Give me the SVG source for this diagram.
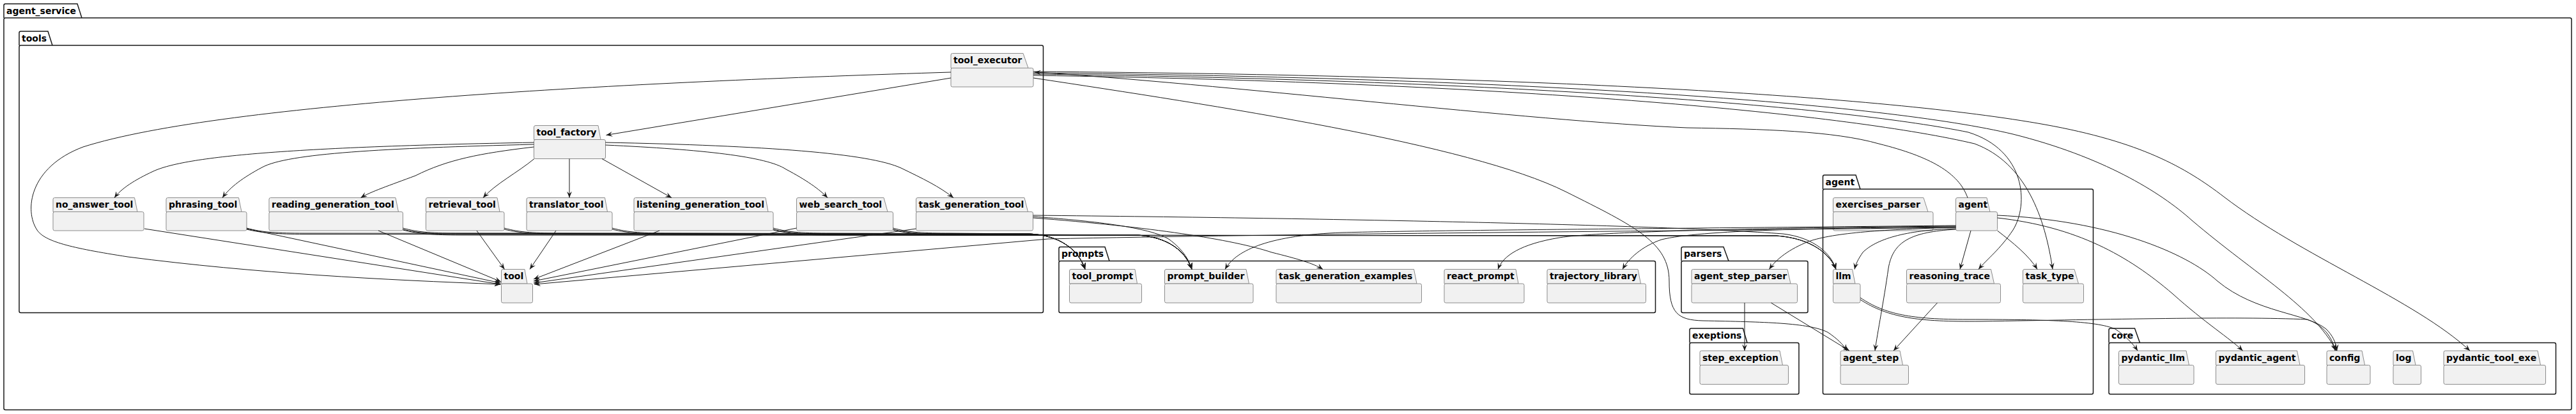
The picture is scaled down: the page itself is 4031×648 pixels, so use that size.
<svg xmlns="http://www.w3.org/2000/svg" width="4031" height="648" viewBox="0 0 4031 648">
<style>
text{font-family:"DejaVu Sans","Liberation Sans",sans-serif;font-weight:bold;font-size:14px;fill:#000}
.pkg path,.pkg rect{fill:none;stroke:#181818;stroke-width:1.5}
.node path,.node rect{fill:#F1F1F1;stroke:#8C8C8C;stroke-width:1}
#edges path{fill:none;stroke:#181818;stroke-width:1;marker-end:url(#arr)}
</style>
<defs>
<marker id="arr" viewBox="0 0 10 8" refX="10" refY="4" markerWidth="10" markerHeight="8" markerUnits="userSpaceOnUse" orient="auto"><path d="M0,0 L10,4 L0,8 L4,4 Z" fill="#181818"/></marker>
</defs>
<rect width="4031" height="648" fill="#fff"/>
<g id="pkg-agent_service" class="pkg"><path d="M6,28 L6,8.5 Q6,6 8.5,6 L121,6 L128,28"/><rect x="6" y="28" width="4018" height="613.5" rx="2.5"/><text x="10" y="21.5">agent_service</text></g>
<g id="pkg-tools" class="pkg"><path d="M30,71 L30,51.5 Q30,49 32.5,49 L75,49 L82,71"/><rect x="30" y="71" width="1602.5" height="418.5" rx="2.5"/><text x="34" y="64.5">tools</text></g>
<g id="pkg-prompts" class="pkg"><path d="M1657,408.5 L1657,389 Q1657,386.5 1659.5,386.5 L1729,386.5 L1736,408.5"/><rect x="1657" y="408.5" width="933.5" height="81" rx="2.5"/><text x="1661" y="402">prompts</text></g>
<g id="pkg-parsers" class="pkg"><path d="M2631,408.5 L2631,389 Q2631,386.5 2633.5,386.5 L2697,386.5 L2705,408.5"/><rect x="2631" y="408.5" width="198" height="81" rx="2.5"/><text x="2635" y="402">parsers</text></g>
<g id="pkg-exeptions" class="pkg"><path d="M2644,536.5 L2644,516.5 Q2644,514 2646.5,514 L2727.5,514 L2734,536.5"/><rect x="2644" y="536.5" width="171" height="80.5" rx="2.5"/><text x="2648" y="529.5">exeptions</text></g>
<g id="pkg-agent" class="pkg"><path d="M2852.5,296 L2852.5,276.5 Q2852.5,274 2855,274 L2904,274 L2911,296"/><rect x="2852.5" y="296" width="423" height="321" rx="2.5"/><text x="2856.5" y="289.5">agent</text></g>
<g id="pkg-core" class="pkg"><path d="M3300,536.5 L3300,516.5 Q3300,514 3302.5,514 L3340.5,514 L3348.5,536.5"/><rect x="3300" y="536.5" width="699.5" height="80.5" rx="2.5"/><text x="3304" y="529.5">core</text></g>

<g id="tool_factory" class="node"><path d="M835.5,218.5 L835.5,199 Q835.5,196.5 838,196.5 L936,196.5 L940,218.5 Z"/><rect x="835.5" y="218.5" width="112" height="30" rx="2.5"/><text x="839.5" y="212">tool_factory</text></g>
<g id="tool_executor" class="node"><path d="M1488,106.5 L1488,86 Q1488,83.5 1490.5,83.5 L1601,83.5 L1609,106.5 Z"/><rect x="1488" y="106.5" width="129" height="29.5" rx="2.5"/><text x="1492" y="99">tool_executor</text></g>
<g id="no_answer_tool" class="node"><path d="M83,331.5 L83,312 Q83,309.5 85.5,309.5 L210.5,309.5 L215,331.5 Z"/><rect x="83" y="331.5" width="142" height="29.5" rx="2.5"/><text x="87" y="325">no_answer_tool</text></g>
<g id="phrasing_tool" class="node"><path d="M260,331.5 L260,312 Q260,309.5 262.5,309.5 L373.5,309.5 L378,331.5 Z"/><rect x="260" y="331.5" width="126" height="29.5" rx="2.5"/><text x="264" y="325">phrasing_tool</text></g>
<g id="reading_generation_tool" class="node"><path d="M421,331.5 L421,312 Q421,309.5 423.5,309.5 L619,309.5 L623.5,331.5 Z"/><rect x="421" y="331.5" width="209.5" height="29.5" rx="2.5"/><text x="425" y="325">reading_generation_tool</text></g>
<g id="retrieval_tool" class="node"><path d="M666.5,331.5 L666.5,312 Q666.5,309.5 669,309.5 L778,309.5 L782,331.5 Z"/><rect x="666.5" y="331.5" width="122.5" height="29.5" rx="2.5"/><text x="670.5" y="325">retrieval_tool</text></g>
<g id="translator_tool" class="node"><path d="M824,331.5 L824,312 Q824,309.5 826.5,309.5 L946.5,309.5 L950.5,331.5 Z"/><rect x="824" y="331.5" width="134" height="29.5" rx="2.5"/><text x="828" y="325">translator_tool</text></g>
<g id="listening_generation_tool" class="node"><path d="M992,331.5 L992,312 Q992,309.5 994.5,309.5 L1198,309.5 L1202,331.5 Z"/><rect x="992" y="331.5" width="218" height="29.5" rx="2.5"/><text x="996" y="325">listening_generation_tool</text></g>
<g id="web_search_tool" class="node"><path d="M1246.5,331.5 L1246.5,312 Q1246.5,309.5 1249,309.5 L1383,309.5 L1389,331.5 Z"/><rect x="1246.5" y="331.5" width="151" height="29.5" rx="2.5"/><text x="1250.5" y="325">web_search_tool</text></g>
<g id="task_generation_tool" class="node"><path d="M1433.5,331.5 L1433.5,312 Q1433.5,309.5 1436,309.5 L1603,309.5 L1608.5,331.5 Z"/><rect x="1433.5" y="331.5" width="183" height="29.5" rx="2.5"/><text x="1437.5" y="325">task_generation_tool</text></g>
<g id="tool" class="node"><path d="M784.5,444 L784.5,424 Q784.5,421.5 787,421.5 L821,421.5 L825,444 Z"/><rect x="784.5" y="444" width="49" height="30" rx="2.5"/><text x="788.5" y="437">tool</text></g>
<g id="tool_prompt" class="node"><path d="M1673.5,444 L1673.5,424 Q1673.5,421.5 1676,421.5 L1776,421.5 L1779.5,444 Z"/><rect x="1673.5" y="444" width="113" height="30" rx="2.5"/><text x="1677.5" y="437">tool_prompt</text></g>
<g id="prompt_builder" class="node"><path d="M1822.5,444 L1822.5,424 Q1822.5,421.5 1825,421.5 L1950,421.5 L1954.5,444 Z"/><rect x="1822.5" y="444" width="138.5" height="30" rx="2.5"/><text x="1826.5" y="437">prompt_builder</text></g>
<g id="task_generation_examples" class="node"><path d="M1997,444 L1997,424 Q1997,421.5 1999.5,421.5 L2212.5,421.5 L2217,444 Z"/><rect x="1997" y="444" width="227.5" height="30" rx="2.5"/><text x="2001" y="437">task_generation_examples</text></g>
<g id="react_prompt" class="node"><path d="M2260,444 L2260,424 Q2260,421.5 2262.5,421.5 L2372,421.5 L2376,444 Z"/><rect x="2260" y="444" width="125" height="30" rx="2.5"/><text x="2264" y="437">react_prompt</text></g>
<g id="trajectory_library" class="node"><path d="M2421,444 L2421,424 Q2421,421.5 2423.5,421.5 L2563,421.5 L2567.5,444 Z"/><rect x="2421" y="444" width="154.5" height="30" rx="2.5"/><text x="2425" y="437">trajectory_library</text></g>
<g id="agent_step_parser" class="node"><path d="M2647,444 L2647,424 Q2647,421.5 2649.5,421.5 L2797,421.5 L2802,444 Z"/><rect x="2647" y="444" width="165.5" height="30" rx="2.5"/><text x="2651" y="437">agent_step_parser</text></g>
<g id="step_exception" class="node"><path d="M2660,571.5 L2660,551.5 Q2660,549 2662.5,549 L2785,549 L2789.5,571.5 Z"/><rect x="2660" y="571.5" width="138.5" height="30" rx="2.5"/><text x="2664" y="564.5">step_exception</text></g>
<g id="exercises_parser" class="node"><path d="M2868.5,331.5 L2868.5,312 Q2868.5,309.5 2871,309.5 L3010,309.5 L3017,331.5 Z"/><rect x="2868.5" y="331.5" width="156.5" height="29.5" rx="2.5"/><text x="2872.5" y="325">exercises_parser</text></g>
<g id="agent" class="node"><path d="M3060.5,331.5 L3060.5,312 Q3060.5,309.5 3063,309.5 L3109,309.5 L3114,331.5 Z"/><rect x="3060.5" y="331.5" width="65" height="29.5" rx="2.5"/><text x="3064.5" y="325">agent</text></g>
<g id="llm" class="node"><path d="M2868.5,444 L2868.5,424 Q2868.5,421.5 2871,421.5 L2898.5,421.5 L2903,444 Z"/><rect x="2868.5" y="444" width="42.5" height="30" rx="2.5"/><text x="2872.5" y="437">llm</text></g>
<g id="reasoning_trace" class="node"><path d="M2983.5,444 L2983.5,424 Q2983.5,421.5 2986,421.5 L3115.5,421.5 L3120.5,444 Z"/><rect x="2983.5" y="444" width="147" height="30" rx="2.5"/><text x="2987.5" y="437">reasoning_trace</text></g>
<g id="task_type" class="node"><path d="M3165.5,444 L3165.5,424 Q3165.5,421.5 3168,421.5 L3246,421.5 L3252.5,444 Z"/><rect x="3165.5" y="444" width="95" height="30" rx="2.5"/><text x="3169.5" y="437">task_type</text></g>
<g id="agent_step" class="node"><path d="M2880,571.5 L2880,551.5 Q2880,549 2882.5,549 L2973,549 L2977.5,571.5 Z"/><rect x="2880" y="571.5" width="106.5" height="30" rx="2.5"/><text x="2884" y="564.5">agent_step</text></g>
<g id="pydantic_llm" class="node"><path d="M3315.5,571.5 L3315.5,551.5 Q3315.5,549 3318,549 L3421,549 L3425.5,571.5 Z"/><rect x="3315.5" y="571.5" width="117.5" height="30" rx="2.5"/><text x="3319.5" y="564.5">pydantic_llm</text></g>
<g id="pydantic_agent" class="node"><path d="M3467.5,571.5 L3467.5,551.5 Q3467.5,549 3470,549 L3594.5,549 L3599,571.5 Z"/><rect x="3467.5" y="571.5" width="139" height="30" rx="2.5"/><text x="3471.5" y="564.5">pydantic_agent</text></g>
<g id="config" class="node"><path d="M3641,571.5 L3641,551.5 Q3641,549 3643.5,549 L3696,549 L3700.5,571.5 Z"/><rect x="3641" y="571.5" width="68" height="30" rx="2.5"/><text x="3645" y="564.5">config</text></g>
<g id="log" class="node"><path d="M3745,571.5 L3745,551.5 Q3745,549 3747.5,549 L3775.5,549 L3780,571.5 Z"/><rect x="3745" y="571.5" width="43.5" height="30" rx="2.5"/><text x="3749" y="564.5">log</text></g>
<g id="pydantic_tool_exe" class="node"><path d="M3824,571.5 L3824,551.5 Q3824,549 3826.5,549 L3971,549 L3975.5,571.5 Z"/><rect x="3824" y="571.5" width="159.5" height="30" rx="2.5"/><text x="3828" y="564.5">pydantic_tool_exe</text></g>

<g id="edges">
<path d="M1488,122 L948.5,211.5"/>
<path d="M1488,113 C1000,128 350,160 130,230 C45,262 38,330 58,360 C70,378 110,388 200,402 C400,428 600,438 783.5,445"/>
<path d="M835.5,223 C450,230 290,245 240,268 C210,282 190,295 179,309.5"/>
<path d="M835.5,226 C600,232 450,240 410,262 C380,278 360,293 348,309.5"/>
<path d="M835.5,230 C750,240 700,250 650,275 C610,290 580,300 564.5,309.5"/>
<path d="M836,248.5 C810,270 775,288 756,309.5"/>
<path d="M891,248.5 L891,309.5"/>
<path d="M942,248.5 L1051,309.5"/>
<path d="M947.5,227 C1100,234 1200,245 1230,265 C1262,282 1282,296 1295,309.5"/>
<path d="M947.5,223 C1200,228 1360,240 1410,263 C1445,280 1470,292 1492,309.5"/>
<path d="M226,358 L783.5,445"/>
<path d="M386,358 L783.5,443"/>
<path d="M592,361 L784,441"/>
<path d="M746,361 L789.5,421.5"/>
<path d="M870,361 L829,421.5"/>
<path d="M1032,361 L835,437"/>
<path d="M1246.5,357 L835,440"/>
<path d="M1433.5,358 L835,443"/>
<path d="M386,357 C411,364 436,365 476,365 L1610,366 C1660,368 1688,392 1698,421.5"/>
<path d="M386,359 C411,365 436,366.5 476,366.5 L1780,368 C1830,371 1856,395 1865,421.5"/>
<path d="M630.5,357 C655,364 680,365 720,365 L1610,366 C1660,368 1688,392 1698,421.5"/>
<path d="M630.5,359 C655,365 680,366.5 720,366.5 L1780,368 C1830,371 1856,395 1865,421.5"/>
<path d="M630.5,360 C655,366 680,368 720,368 L2780,369 C2835,373 2864,398 2873,421.5"/>
<path d="M789,357 C814,364 839,365 879,365 L1610,366 C1660,368 1688,392 1698,421.5"/>
<path d="M789,359 C814,365 839,366.5 879,366.5 L1780,368 C1830,371 1856,395 1865,421.5"/>
<path d="M958,357 C983,364 1008,365 1048,365 L1610,366 C1660,368 1688,392 1698,421.5"/>
<path d="M958,359 C983,365 1008,366.5 1048,366.5 L1780,368 C1830,371 1856,395 1865,421.5"/>
<path d="M1210,357 C1235,364 1260,365 1300,365 L1610,366 C1660,368 1688,392 1698,421.5"/>
<path d="M1210,359 C1235,365 1260,366.5 1300,366.5 L1780,368 C1830,371 1856,395 1865,421.5"/>
<path d="M1210,360 C1235,366 1260,368 1300,368 L2780,369 C2835,373 2864,398 2873,421.5"/>
<path d="M1397.5,357 C1422,364 1447,365 1487,365 L1610,366 C1660,368 1688,392 1698,421.5"/>
<path d="M1397.5,359 C1422,365 1447,366.5 1487,366.5 L1780,368 C1830,371 1856,395 1865,421.5"/>
<path d="M1397.5,360 C1422,366 1447,368 1487,368 L2780,369 C2835,373 2864,398 2873,421.5"/>
<path d="M1616.5,337 C2100,342 2600,352 2790,366 C2840,372 2866,398 2873,421.5"/>
<path d="M1616.5,339 C1700,345 1800,355 1830,375 C1850,390 1860,405 1865,421.5"/>
<path d="M1616.5,341 C1800,355 1930,375 1990,395 C2030,405 2055,412 2070,421.5"/>
<path d="M3079,309.5 C3065,270 3020,245 2940,225 C2870,205 2760,202 2640,200 C2400,190 1900,130 1619,113"/>
<path d="M3084,361 L3067,421.5"/>
<path d="M3125.5,361 C3150,380 3175,400 3188,421.5"/>
<path d="M3125.5,341 C3250,355 3330,400 3400,460 C3450,505 3490,530 3509.5,549"/>
<path d="M3125.5,337 C3300,345 3420,395 3470,440 C3530,490 3610,490 3640,515 C3650,525 3655,535 3657,549"/>
<path d="M3060.5,358 C2980,360 2935,375 2915,395 C2908,405 2904,413 2902,421.5"/>
<path d="M3060.5,356 C2950,359 2870,364 2830,378 C2800,390 2780,405 2768.5,421.5"/>
<path d="M3060.5,355 C2850,357 2660,360 2600,375 C2570,385 2548,405 2539,421.5"/>
<path d="M3060.5,354 C2800,356 2500,362 2440,372 C2380,382 2352,400 2344,421.5"/>
<path d="M3060.5,353 C2700,357 2250,360 2100,364 C1990,368 1935,390 1917,421.5"/>
<path d="M3060.5,356 C2600,362 2000,366 1640,374 L836,445"/>
<path d="M3060.5,359 C2990,363 2962,378 2955,420 C2948,470 2938,520 2934,549"/>
<path d="M1617,112 C2400,118 2950,150 3200,195 C3350,222 3420,262 3480,308 C3600,400 3780,470 3865,549"/>
<path d="M1617,114 C2400,122 2950,162 3150,210 C3290,245 3380,300 3430,345 C3530,430 3620,480 3656,549"/>
<path d="M1617,116 C2400,126 2900,170 3080,207 C3170,235 3175,320 3150,360 C3130,390 3110,405 3096,421.5"/>
<path d="M1617,118 C2400,130 2900,180 3090,225 C3170,255 3200,340 3212,421.5"/>
<path d="M1617,122 C1900,165 2300,225 2450,300 C2560,355 2612,380 2612,440 C2612,490 2625,501 2665,502 C2760,504 2830,505 2860,520 C2875,530 2885,540 2890,549"/>
<path d="M2730,474 L2730,549"/>
<path d="M2771.5,474 L2894,549"/>
<path d="M3031.5,474 L2963,549"/>
<path d="M2911,466 C2950,492 2990,500 3080,500 C3200,500 3280,502 3310,515 C3325,525 3338,538 3345,549"/>
<path d="M2911,469 C2955,497 3000,504 3100,503 C3300,500 3500,495 3610,500 C3635,508 3650,528 3654,549"/>
</g>
</svg>
